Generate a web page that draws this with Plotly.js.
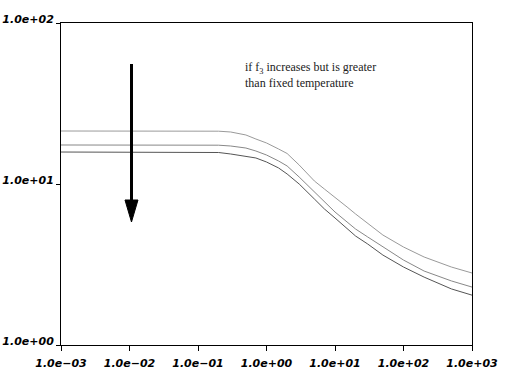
<!DOCTYPE html>
<html>
<head>
<meta charset="utf-8">
<script src="https://cdn.plot.ly/plotly-3.0.1.min.js"></script>
<style>html,body{margin:0;padding:0;background:#fff;}#chart{width:513px;height:387px;}</style>
</head>
<body>
<div id="chart"></div>
<script>
// x values (log scale)
const xVals = [0.001, 0.01, 0.1, 0.2, 0.3, 0.5, 0.7, 1, 1.5, 2, 3, 5, 7, 10, 15, 20, 30, 50, 100, 200, 500, 1000];
// three curves
const curveTop    = [21.34, 21.34, 21.34, 21.28, 21.04, 20.16, 19.03, 17.98, 16.50, 15.47, 13.12, 10.44, 9.31, 8.30, 7.20, 6.51, 5.72, 4.82, 4.06, 3.52, 3.05, 2.80];
const curveMiddle = [17.47, 17.47, 17.47, 17.42, 17.22, 16.73, 16.03, 15.14, 13.90, 12.94, 11.05, 8.92, 7.73, 6.70, 5.81, 5.25, 4.69, 4.06, 3.37, 2.88, 2.50, 2.29];
const curveBottom = [15.80, 15.80, 15.80, 15.69, 15.36, 14.93, 14.51, 13.70, 12.58, 11.54, 10.00, 8.07, 7.00, 6.15, 5.33, 4.75, 4.24, 3.62, 3.05, 2.64, 2.23, 2.04];
// tick labels
const xTickVals = [0.001, 0.01, 0.1, 1, 10, 100, 1000];
const xTickText = ["1.0e\u221203", "1.0e\u221202", "1.0e\u221201", "1.0e+00", "1.0e+01", "1.0e+02", "1.0e+03"];
const yTickVals = [1, 10, 100];
const yTickText = ["1.0e+00", "1.0e+01", "1.0e+02"];
const noteText = "if f<sub>3</sub> increases but is greater<br>than fixed temperature";

const tickFont = {family: "DejaVu Sans", size: 11, weight: "bold", style: "italic", color: "#000"};
const ital = s => "<i>" + s + "</i>";

const traces = [
  {x: xVals, y: curveTop, mode: "lines", line: {color: "#9a9a9a", width: 1}, hoverinfo: "skip"},
  {x: xVals, y: curveMiddle, mode: "lines", line: {color: "#888888", width: 1}, hoverinfo: "skip"},
  {x: xVals, y: curveBottom, mode: "lines", line: {color: "#555555", width: 1}, hoverinfo: "skip"}
];

const ax = 0.1715, hw = 0.0158;
const layout = {
  width: 513, height: 387,
  margin: {l: 61, r: 41, t: 23, b: 42, pad: 0},
  paper_bgcolor: "#fff", plot_bgcolor: "#fff",
  showlegend: false,
  xaxis: {
    type: "log", range: [-3, 3], showgrid: false, zeroline: false,
    showline: true, linecolor: "#000", linewidth: 1, mirror: true,
    ticks: "outside", ticklen: 5, tickcolor: "#000", tickwidth: 1,
    tickvals: xTickVals, ticktext: xTickText.map(ital), tickfont: tickFont, tickangle: 0,
    ticklabelstandoff: 3
  },
  yaxis: {
    type: "log", range: [0, 2], showgrid: false, zeroline: false,
    showline: true, linecolor: "#000", linewidth: 1, mirror: true,
    ticks: "outside", ticklen: 4, tickcolor: "#000", tickwidth: 1,
    tickvals: yTickVals, ticktext: yTickText.map(ital), tickfont: tickFont,
    ticklabelshift: -4
  },
  shapes: [
    {type: "line", xref: "paper", yref: "paper", x0: ax, x1: ax, y0: 0.8727, y1: 0.4441,
     line: {color: "#000", width: 3}},
    {type: "path", xref: "paper", yref: "paper",
     path: "M " + (ax - hw) + " 0.4503 L " + (ax + hw) + " 0.4503 L " + ax + " 0.3820 Z",
     fillcolor: "#000", line: {color: "#000", width: 1}}
  ],
  annotations: [
    {xref: "paper", yref: "paper", x: 0.4428, y: 0.837, xanchor: "left", yanchor: "middle",
     align: "left", showarrow: false, text: noteText,
     font: {family: "Liberation Serif", size: 12, color: "#222"}}
  ]
};

Plotly.newPlot("chart", traces, layout, {staticPlot: true, displayModeBar: false});
</script>
</body>
</html>
